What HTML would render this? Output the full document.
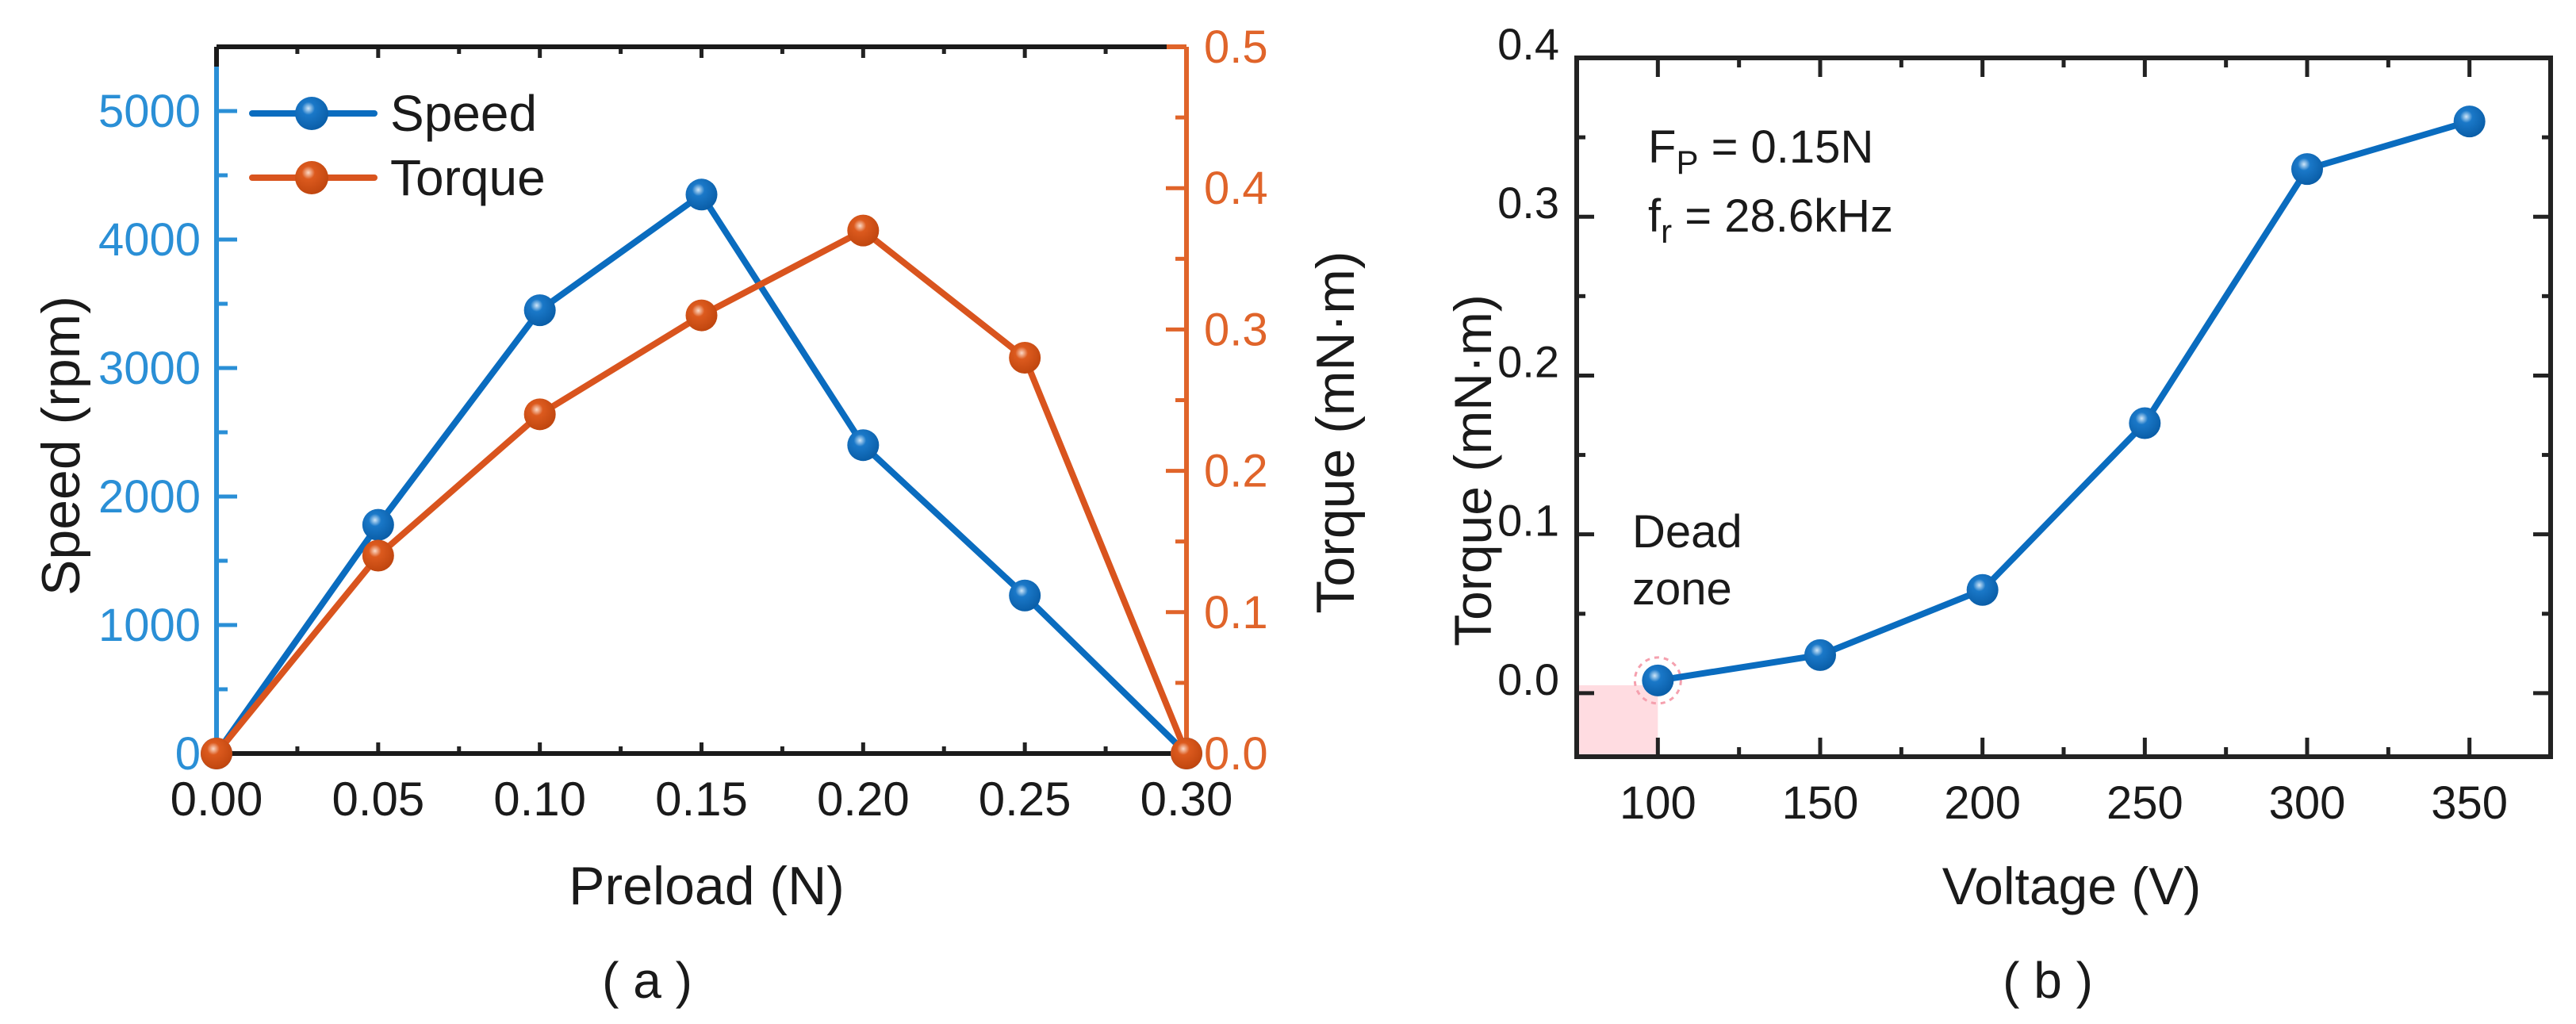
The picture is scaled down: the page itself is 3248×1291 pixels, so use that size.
<!DOCTYPE html>
<html><head><meta charset="utf-8"><style>
html,body{margin:0;padding:0;background:#fff;}
svg{display:block;font-family:"Liberation Sans",Arial,sans-serif;font-stretch:semi-condensed;}
</style></head><body>
<svg id="fig" width="3248" height="1291" viewBox="0 0 3248 1291" xmlns="http://www.w3.org/2000/svg">
<defs>
<radialGradient id="gb" cx="0.4" cy="0.35" r="0.65"><stop offset="0" stop-color="#cfe6f8"/><stop offset="0.3" stop-color="#1a78c8"/><stop offset="1" stop-color="#0a5ea8"/></radialGradient>
<radialGradient id="go" cx="0.4" cy="0.35" r="0.65"><stop offset="0" stop-color="#fbd9c6"/><stop offset="0.3" stop-color="#dc5a1e"/><stop offset="1" stop-color="#c0460f"/></radialGradient>
</defs>
<g id="ga"></g>
<g id="gbc"></g>
</svg>
<script>
// ---- Chart (a) data ----
const preload = [0, 0.05, 0.10, 0.15, 0.20, 0.25, 0.30];
const speedVals = [0, 1780, 3450, 4350, 2400, 1230, 0];
const torqueVals = [0, 0.14, 0.24, 0.31, 0.37, 0.28, 0];
const aXTicks = ["0.00","0.05","0.10","0.15","0.20","0.25","0.30"];
const aYLTicks = ["0","1000","2000","3000","4000","5000"];
const aYRTicks = ["0.0","0.1","0.2","0.3","0.4","0.5"];
// ---- Chart (b) data ----
const voltage = [100, 150, 200, 250, 300, 350];
const torqueB = [0.008, 0.024, 0.065, 0.17, 0.33, 0.36];
const bXTicks = ["100","150","200","250","300","350"];
const bYTicks = ["0.0","0.1","0.2","0.3","0.4"];

const NS = "http://www.w3.org/2000/svg";
function mk(parent, tag, attrs, text){
  const e = document.createElementNS(NS, tag);
  for (const k in attrs) e.setAttribute(k, attrs[k]);
  if (text !== undefined) e.textContent = text;
  parent.appendChild(e);
  return e;
}
const BLUE="#0a6cbf", ORANGE="#d9541e", LBLUE="#2a8fd6", LORANGE="#e0642a";

// ===== Chart A =====
const A = document.getElementById('ga');
const aL=273, aR=1496, aT=59, aB=950;
const axA = v => aL + (v-0)/(0.30-0)*(aR-aL);
const ayS = v => aB - v/5500*(aB-aT);
const ayT = v => aB - v/0.5*(aB-aT);

for (let i=0;i<=12;i++){
  const v=i*0.025, x=axA(v), len = i%2===0?14:9;
  let t=mk(A,'line',{x1:x,y1:aB,x2:x,y2:aB-len,stroke:'#222','stroke-width':5});
   
  t=mk(A,'line',{x1:x,y1:aT,x2:x,y2:aT+len,stroke:'#222','stroke-width':5});
   
}
for (let i=0;i<=11;i++){
  const v=i*500, y=ayS(v), len=i%2===0?26:14;
  const t=mk(A,'line',{x1:aL,y1:y,x2:aL+len,y2:y,stroke:LBLUE,'stroke-width':5});
   
}
for (let i=0;i<=10;i++){
  const v=i*0.05, y=ayT(v), len=i%2===0?26:14;
  const t=mk(A,'line',{x1:aR,y1:y,x2:aR-len,y2:y,stroke:LORANGE,'stroke-width':5});
   
}
let e;
e=mk(A,'line',{x1:aL,y1:aT,x2:aR-25,y2:aT,stroke:'#1a1a1a','stroke-width':6});
 
e=mk(A,'line',{x1:aR-25,y1:aT,x2:aR,y2:aT,stroke:LORANGE,'stroke-width':6});
e=mk(A,'line',{x1:aL,y1:aB,x2:aR,y2:aB,stroke:'#1a1a1a','stroke-width':6});
 
e=mk(A,'line',{x1:aL,y1:aT+25,x2:aL,y2:aB,stroke:LBLUE,'stroke-width':6});
 
e=mk(A,'line',{x1:aL,y1:aT,x2:aL,y2:aT+25,stroke:'#1a1a1a','stroke-width':6});
e=mk(A,'line',{x1:aR,y1:aT,x2:aR,y2:aB,stroke:LORANGE,'stroke-width':6});
 

aXTicks.forEach((s,i)=>{
  const t=mk(A,'text',{x:axA(preload[i]),y:aB+78,'font-size':60,'text-anchor':'middle',fill:'#1a1a1a'},s);
   
});
aYLTicks.forEach((s,i)=>{
  const t=mk(A,'text',{x:aL-20,y:ayS(i*1000)+20,'font-size':58,'text-anchor':'end',fill:LBLUE},s);
   
});
aYRTicks.forEach((s,i)=>{
  const t=mk(A,'text',{x:aR+22,y:ayT(i*0.1)+20,'font-size':58,'text-anchor':'start',fill:LORANGE},s);
   
});
e=mk(A,'text',{x:891,y:1140,'font-size':68,'text-anchor':'middle',fill:'#1a1a1a'},'Preload (N)');
 
e=mk(A,'text',{x:0,y:0,'font-size':68,'text-anchor':'middle',fill:'#1a1a1a',transform:'translate(100,562) rotate(-90)'},'Speed (rpm)');
 
e=mk(A,'text',{x:0,y:0,'font-size':68,'text-anchor':'middle',fill:'#1a1a1a',transform:'translate(1707,545) rotate(-90)'},'Torque (mN·m)');
 
e=mk(A,'text',{x:816,y:1258,'font-size':64,'text-anchor':'middle',fill:'#1a1a1a','xml:space':'preserve'},'( a )');
 

function series(g, xs, ys, fx, fy, color, grad, name){
  const pts = xs.map((x,i)=>fx(x)+','+fy(ys[i])).join(' ');
  const l=mk(g,'polyline',{points:pts,fill:'none',stroke:color,'stroke-width':8,'stroke-linejoin':'round'});
   
  xs.forEach((x,i)=>{
    const c=mk(g,'circle',{cx:fx(x),cy:fy(ys[i]),r:20,fill:'url(#'+grad+')'});
     
  });
}
series(A, preload, speedVals, axA, ayS, BLUE, 'gb', 'speed');
series(A, preload, torqueVals, axA, ayT, ORANGE, 'go', 'torque');

const lg = mk(A,'g',{});
 
[[143,BLUE,'gb','Speed'],[224,ORANGE,'go','Torque']].forEach(d=>{
  const it=mk(lg,'g',{});
   
  mk(it,'line',{x1:318,y1:d[0],x2:472,y2:d[0],stroke:d[1],'stroke-width':8,'stroke-linecap':'round'});
  mk(it,'circle',{cx:393,cy:d[0],r:21,fill:'url(#'+d[2]+')'});
  mk(it,'text',{x:492,y:d[0]+22,'font-size':64,fill:'#1a1a1a'},d[3]);
});

// ===== Chart B =====
const B = document.getElementById('gbc');
const bL=1988, bR=3216, bT=73, bBt=954;
const bx = v => bL + (v-75)/(375-75)*(bR-bL);
const by = v => bBt - (v+0.04)/(0.44)*(bBt-bT);

e=mk(B,'rect',{x:bL,y:by(0.005),width:bx(100)-bL,height:bBt-by(0.005),fill:'#ffd6dc','fill-opacity':0.85});
 
e=mk(B,'circle',{cx:bx(voltage[0]),cy:by(torqueB[0]),r:29,fill:'none',stroke:'#f5a0ae','stroke-width':3,'stroke-dasharray':'6,6'});
 

for (let v=75; v<=375; v+=25){
  const x=bx(v), len=(v%50===0)?24:12;
  let t=mk(B,'line',{x1:x,y1:bBt,x2:x,y2:bBt-len,stroke:'#222','stroke-width':5});
   
  t=mk(B,'line',{x1:x,y1:bT,x2:x,y2:bT+len,stroke:'#222','stroke-width':5});
   
}
for (let i=0;i<=8;i++){
  const v=i*0.05, y=by(v), len=i%2===0?22:11;
  let t=mk(B,'line',{x1:bL,y1:y,x2:bL+len,y2:y,stroke:'#222','stroke-width':5});
   
  t=mk(B,'line',{x1:bR,y1:y,x2:bR-len,y2:y,stroke:'#222','stroke-width':5});
   
}
e=mk(B,'rect',{x:bL,y:bT,width:bR-bL,height:bBt-bT,fill:'none',stroke:'#222','stroke-width':6});
 

bXTicks.forEach((s,i)=>{
  const t=mk(B,'text',{x:bx(voltage[i]),y:bBt+78,'font-size':58,'text-anchor':'middle',fill:'#1a1a1a'},s);
   
});
bYTicks.forEach((s,i)=>{
  const t=mk(B,'text',{x:bL-22,y:by(i*0.1)+2,'font-size':56,'text-anchor':'end',fill:'#1a1a1a'},s);
   
});
e=mk(B,'text',{x:2612,y:1140,'font-size':66,'text-anchor':'middle',fill:'#1a1a1a'},'Voltage (V)');
 
e=mk(B,'text',{x:0,y:0,'font-size':66,'text-anchor':'middle',fill:'#1a1a1a',transform:'translate(1880,593) rotate(-90)'},'Torque (mN·m)');
 
e=mk(B,'text',{x:2582,y:1258,'font-size':64,'text-anchor':'middle',fill:'#1a1a1a','xml:space':'preserve'},'( b )');
 

e=mk(B,'text',{x:2078,y:205,'font-size':58,fill:'#1a1a1a'});
 
mk(e,'tspan',{},'F');
mk(e,'tspan',{'font-size':42,dy:14},'P');
mk(e,'tspan',{dy:-14},' = 0.15N');
e=mk(B,'text',{x:2078,y:292,'font-size':58,fill:'#1a1a1a'});
 
mk(e,'tspan',{},'f');
mk(e,'tspan',{'font-size':42,dy:14},'r');
mk(e,'tspan',{dy:-14},' = 28.6kHz');
e=mk(B,'text',{x:2058,y:690,'font-size':58,fill:'#1a1a1a'},'Dead');
 
e=mk(B,'text',{x:2058,y:762,'font-size':58,fill:'#1a1a1a'},'zone');
 

series(B, voltage, torqueB, bx, by, BLUE, 'gb', 'torque-voltage');
</script>
</body></html>
